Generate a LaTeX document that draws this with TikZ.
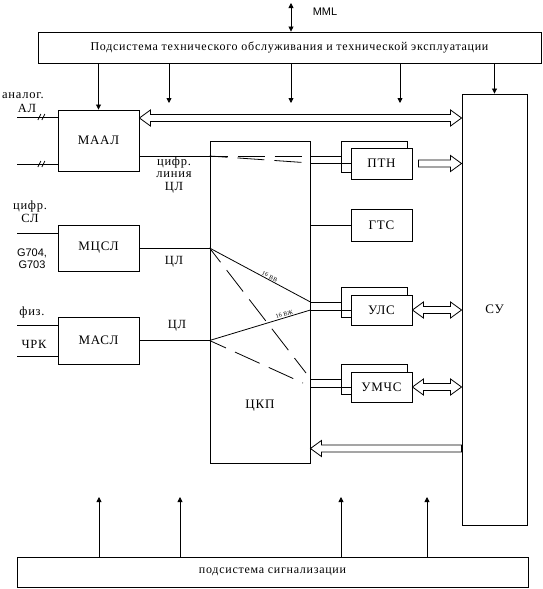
\documentclass[tikz,border=0pt]{standalone}
\usepackage{fontspec}
\setmainfont{Liberation Serif}[LetterSpace=6]
\newfontfamily\sansf{Liberation Sans}
\usetikzlibrary{arrows.meta,calc}
\tikzset{
  box/.style={draw, line width=0.9pt, inner sep=0pt, font=\fontsize{13}{14}\selectfont},
  wide/.style={font=\fontsize{12}{14}\selectfont},
  lab/.style={inner sep=0pt, font=\fontsize{12.5}{12.5}\selectfont, align=center},
  slab/.style={inner sep=0pt, font=\sansf\fontsize{11}{12}\selectfont, align=center},
  conn/.style={line width=0.8pt},
  tip/.style={conn, -{Triangle[length=5pt,width=5pt]}},
  dtip/.style={conn, {Triangle[length=5pt,width=5pt]}-{Triangle[length=5pt,width=5pt]}},
  dsh/.style={conn, dash pattern=on 27pt off 10pt, dash phase=9pt},
  tiny/.style={inner sep=0pt, font=\fontsize{6}{7}\selectfont},
  dslash/.pic={\draw[conn] (-3.5pt,-3pt) -- (-0.5pt,3pt) (0.5pt,-3pt) -- (3.5pt,3pt);}
}
\newcommand\hsingle[2]{%
  \draw[conn] let \p1=#1, \p2=#2, \n1={sign(\x2-\x1)} in
    ({\x1},{\y1+3.5pt}) -- ({\x2-(\n1)*11pt},{\y1+3.5pt}) -- ({\x2-(\n1)*11pt},{\y1+8pt})
    -- ({\x2},{\y1}) -- ({\x2-(\n1)*11pt},{\y1-8pt}) -- ({\x2-(\n1)*11pt},{\y1-3.5pt})
    -- ({\x1},{\y1-3.5pt}) -- cycle;}
\newcommand\hdouble[2]{%
  \draw[conn] let \p1=#1, \p2=#2, \n1={sign(\x2-\x1)} in
    ({\x1},{\y1}) -- ({\x1+(\n1)*11pt},{\y1+8pt}) -- ({\x1+(\n1)*11pt},{\y1+3.5pt})
    -- ({\x2-(\n1)*11pt},{\y1+3.5pt}) -- ({\x2-(\n1)*11pt},{\y1+8pt}) -- ({\x2},{\y1})
    -- ({\x2-(\n1)*11pt},{\y1-8pt}) -- ({\x2-(\n1)*11pt},{\y1-3.5pt})
    -- ({\x1+(\n1)*11pt},{\y1-3.5pt}) -- ({\x1+(\n1)*11pt},{\y1-8pt}) -- cycle;}
\begin{document}
\begin{tikzpicture}[x=1pt,y=-1pt]
\useasboundingbox[fill=white] (0,0) rectangle (543,589);
% main boxes
\node[box, wide, minimum width=503, minimum height=31] (top) at (289.5,47.5) {Подсистема технического обслуживания и технической эксплуатации};
\node[box, minimum width=65, minimum height=431] (su) at (494.5,309.5) {СУ};
\node[box, minimum width=81, minimum height=61] (maal) at (98.5,140.5) {МААЛ};
\node[box, minimum width=81, minimum height=46] (mcsl) at (98.5,248) {МЦСЛ};
\node[box, minimum width=81, minimum height=47] (masl) at (98.5,340.5) {МАСЛ};
\node[box, minimum width=100, minimum height=322] (ckp) at (260,302) {};
\node[lab, font=\fontsize{13}{14}\selectfont] (ckpl) at (260,406) {ЦКП};
\node[box, wide, minimum width=511, minimum height=30] (bot) at (272.5,572) {подсистема сигнализации};
\node[box, minimum width=61, minimum height=32] (gts) at (381.5,225) {ГТС};
% back boxes
\node[box, minimum width=66, minimum height=31] (ptnb) at (374,156.5) {};
\node[box, minimum width=66, minimum height=30] (ulsb) at (374,302) {};
\node[box, minimum width=66, minimum height=30] (umcsb) at (374,379) {};
% MML
\coordinate (mml) at (291,3);
\draw[dtip] (mml) -- (mml |- top.north);
\node[slab] (mmll) at (325,12) {MML};
% arrows from top subsystem
\coordinate (d1) at (169,103);
\coordinate (d2) at (291,103);
\coordinate (d3) at (400,103);
\draw[tip] (maal.north |- top.south) -- (maal.north);
\draw[tip] (d1 |- top.south) -- (d1);
\draw[tip] (d2 |- top.south) -- (d2);
\draw[tip] (d3 |- top.south) -- (d3);
\draw[tip] (su.north |- top.south) -- (su.north);
% arrows from signalling subsystem
\coordinate (u1) at (99,497);
\coordinate (u2) at (180,497);
\coordinate (u3) at (341,497);
\coordinate (u4) at (427,497);
\draw[tip] (u1 |- bot.north) -- (u1);
\draw[tip] (u2 |- bot.north) -- (u2);
\draw[tip] (u3 |- bot.north) -- (u3);
\draw[tip] (u4 |- bot.north) -- (u4);
% inputs
\coordinate (i1) at (17,117);
\coordinate (i2) at (17,164);
\coordinate (i3) at (17,233);
\coordinate (i4) at (17,325);
\coordinate (i5) at (17,356);
\draw[conn] (i1) -- (maal.west |- i1) pic[pos=0.6]{dslash};
\draw[conn] (i2) -- (maal.west |- i2) pic[pos=0.6]{dslash};
\draw[conn] (i3) -- (mcsl.west |- i3);
\draw[conn] (i4) -- (masl.west |- i4);
\draw[conn] (i5) -- (masl.west |- i5);
% left labels
\node[lab] (l1) at (23,96) {аналог.};
\node[lab] (l2) at (27,108) {АЛ};
\node[lab] (l3) at (30,211.5) {цифр.\\СЛ};
\node[slab] (l4) at (32,259) {G704,\\G703};
\node[lab] (l5) at (32,312) {физ.};
\node[lab] (l6) at (34,344) {ЧРК};
% module -> CKP lines
\coordinate (c1) at (ckp.west |- 0,156);
\coordinate (c2) at (ckp.west |- mcsl.east);
\coordinate (c3) at (ckp.west |- masl.east);
\draw[conn] (maal.east |- c1) -- (c1);
\draw[conn] (mcsl.east) -- (c2);
\draw[conn] (masl.east) -- (c3);
\node[lab] (l7) at (174,174.5) {цифр.\\линия\\ЦЛ};
\node[lab] (l8) at (174,262) {ЦЛ};
\node[lab] (l9) at (177,326) {ЦЛ};
% inside CKP
\coordinate (e0) at (ckp.east |- 0,156);
\coordinate (e0b) at (ckp.east |- 0,163);
\coordinate (e1) at (ckp.east |- 0,302);
\coordinate (e2) at (ckp.east |- 0,310);
\coordinate (e3) at (ckp.east |- 0,379);
\coordinate (e4) at (ckp.east |- 0,387);
\coordinate (f1) at (306,373);
\coordinate (f2) at (303,383);
\draw[dsh] (c1) -- (e0);
\draw[dsh] (c1) -- (e0b);
\draw[conn] (c2) -- (e1) node[tiny, pos=0.58, sloped, above=1pt] {16 ВВ};
\draw[conn] (c3) -- (e2) node[tiny, pos=0.75, sloped, above=1pt] {16 ВЖ};
\draw[dsh] (c2) -- (f1);
\draw[dsh] (c3) -- (f2);
% CKP -> devices
\draw[conn] (e0) -- (ptnb.west |- e0);
\draw[conn] (e0b) -- (ptnb.east |- e0b);
\draw[conn] (e1) -- (ulsb.west |- e1);
\draw[conn] (e2) -- (ulsb.east |- e2);
\draw[conn] (e3) -- (umcsb.west |- e3);
\draw[conn] (e4) -- (umcsb.east |- e4);
\draw[conn] (ckp.east |- gts.west) -- (gts.west);
% front boxes
\node[box, fill=white, minimum width=61, minimum height=31] (ptn) at (381.5,163.5) {ПТН};
\node[box, fill=white, minimum width=61, minimum height=30] (uls) at (381.5,310) {УЛС};
\node[box, fill=white, minimum width=61, minimum height=30] (umcs) at (381.5,387) {УМЧС};
% hollow arrows
\hdouble{(maal.east |- 0,118)}{(su.west |- 0,118)}
\hsingle{([xshift=6pt]ptn.east)}{(su.west |- ptn.east)}
\hdouble{(uls.east)}{(su.west |- uls.east)}
\hdouble{(umcs.east)}{(su.west |- umcs.east)}
\hsingle{(su.west |- 0,448.5)}{(ckp.east |- 0,448.5)}
\end{tikzpicture}
\end{document}
